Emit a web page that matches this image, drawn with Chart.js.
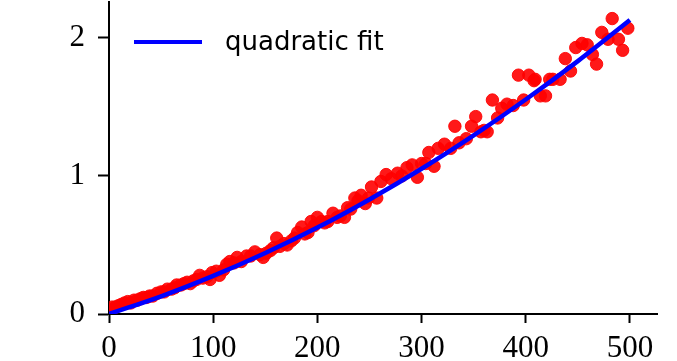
<!DOCTYPE html>
<html>
<head>
<meta charset="utf-8">
<script src="https://cdn.jsdelivr.net/npm/chart.js@4/dist/chart.umd.min.js"></script>
<style>
html,body{margin:0;padding:0;background:#fff;}
#wrap{width:677px;height:361px;}
</style>
</head>
<body>
<div id="wrap"><canvas id="c" width="677" height="361"></canvas></div>
<script>
// Scatter data
const dataX = [0,3,6,9,12,15,18,21,24,27,30,33,36,39,42,46,50,53,56,60,63,65,69,72,75,78,81,84,87,90,94,97,99,103,106,110,113,116,120,123,127,132,136,140,145,148,151,155,158,161,164,168,171,175,178,181,185,188,191,194,197,200,204,207,210,215,219,222,226,229,232,236,239,242,246,249,252,257,261,266,271,277,281,286,291,296,300,304,307,312,316,322,328,332,336,343,348,352,357,360,363,368,373,377,382,388,393,398,403,408,409,414,419,423,426,433,438,443,448,454,459,464,468,473,479,483,489,493,498];
const dataY = [0.03,0.05,0.05,0.06,0.07,0.08,0.09,0.08,0.10,0.10,0.11,0.12,0.12,0.13,0.13,0.15,0.16,0.16,0.18,0.18,0.19,0.21,0.21,0.22,0.23,0.22,0.24,0.25,0.28,0.26,0.27,0.25,0.30,0.31,0.28,0.32,0.36,0.38,0.37,0.41,0.38,0.42,0.42,0.45,0.43,0.41,0.44,0.46,0.48,0.55,0.49,0.51,0.50,0.53,0.55,0.59,0.63,0.58,0.59,0.67,0.64,0.70,0.67,0.66,0.67,0.73,0.70,0.71,0.70,0.77,0.76,0.84,0.82,0.86,0.80,0.84,0.92,0.84,0.96,1.01,0.98,1.02,1.00,1.06,1.08,0.99,1.09,1.09,1.17,1.07,1.20,1.23,1.20,1.36,1.24,1.27,1.36,1.43,1.32,1.33,1.32,1.55,1.42,1.49,1.52,1.51,1.73,1.55,1.73,1.69,1.70,1.58,1.58,1.70,1.70,1.70,1.85,1.76,1.93,1.96,1.95,1.88,1.81,2.04,1.99,2.14,1.99,1.91,2.07];
const fitX = [0,50,100,150,200,250,300,350,400,450,500];
const fitY = [0.0,0.128,0.276,0.442,0.626,0.830,1.052,1.294,1.554,1.832,2.13];
const xTicks = [0,100,200,300,400,500];
const yTicks = [0,1,2];
const fitLabel = 'quadratic fit';

const scatterPts = dataX.map((x,i)=>({x:x,y:dataY[i]}));
const fitPts = fitX.map((x,i)=>({x:x,y:fitY[i]}));

const legendPlugin = {
  id:'innerLegend',
  afterDraw(chart){
    const ctx = chart.ctx;
    const ca = chart.chartArea;
    const ds = chart.data.datasets.find(d=>d.showInLegend);
    if(!ds) return;
    const y = ca.top + 40;
    ctx.save();
    ctx.strokeStyle = ds.borderColor;
    ctx.lineWidth = 4;
    ctx.beginPath();
    ctx.moveTo(ca.left + 25, y);
    ctx.lineTo(ca.left + 93, y);
    ctx.stroke();
    ctx.fillStyle = '#000';
    ctx.font = '26px "DejaVu Sans"';
    ctx.textBaseline = 'middle';
    ctx.textAlign = 'left';
    ctx.fillText(ds.label, ca.left + 116, y + 1);
    ctx.restore();
  }
};

const tickFont = {family:'"Liberation Serif", serif', size:31};

new Chart(document.getElementById('c'), {
  type:'scatter',
  data:{
    datasets:[
      {
        type:'line',
        label: fitLabel,
        showInLegend:true,
        data: fitPts,
        borderColor:'#0000ff',
        borderWidth:4.5,
        pointRadius:0,
        fill:false,
        cubicInterpolationMode:'monotone',
        order:0
      },
      {
        label:'data',
        data: scatterPts,
        backgroundColor:'rgba(255,0,0,0.9)',
        borderColor:'rgba(255,0,0,0.9)',
        borderWidth:1,
        pointRadius:6.2,
        pointHoverRadius:6.2,
        order:1
      }
    ]
  },
  options:{
    responsive:false,
    animation:false,
    events:[],
    layout:{autoPadding:false, padding:{top:2,right:20,left:0,bottom:0}},
    plugins:{legend:{display:false},tooltip:{enabled:false}},
    scales:{
      x:{
        type:'linear',
        min:0, max:526,
        afterBuildTicks(axis){ axis.ticks = xTicks.map(v=>({value:v})); },
        afterFit(axis){ axis.height = 47; axis.paddingLeft = 0; axis.paddingRight = 0; },
        grid:{display:true, drawOnChartArea:false, drawTicks:true, tickLength:9, tickColor:'#000', tickWidth:2},
        border:{display:true, color:'#000', width:2},
        ticks:{color:'#000', font:tickFont, padding:7, maxRotation:0, autoSkip:false}
      },
      y:{
        type:'linear',
        min:0, max:2.26,
        afterBuildTicks(axis){ axis.ticks = yTicks.map(v=>({value:v})); },
        afterFit(axis){ axis.width = 109; axis.paddingTop = 0; axis.paddingBottom = 0; },
        grid:{display:true, drawOnChartArea:false, drawTicks:true, tickLength:11, tickColor:'#000', tickWidth:2},
        border:{display:true, color:'#000', width:2},
        ticks:{color:'#000', font:tickFont, padding:13, autoSkip:false}
      }
    }
  },
  plugins:[legendPlugin]
});
</script>
</body>
</html>
